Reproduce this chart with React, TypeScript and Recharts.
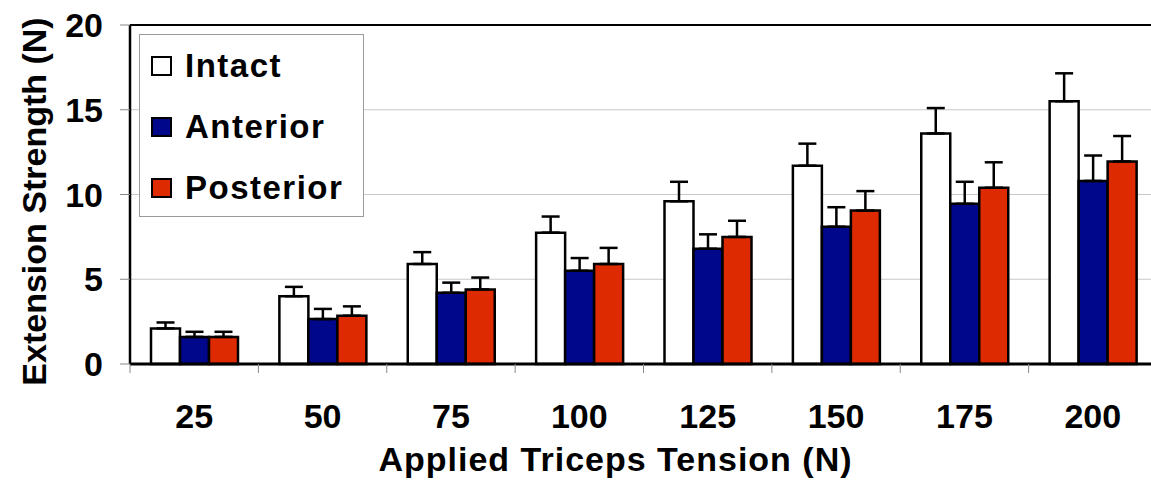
import {
  BarChart,
  Bar,
  XAxis,
  YAxis,
  CartesianGrid,
  ReferenceLine,
  ErrorBar,
  Legend,
  Label,
} from "recharts";

const tensions = ["25", "50", "75", "100", "125", "150", "175", "200"];
const intact = [2.1, 4.0, 5.9, 7.75, 9.6, 11.7, 13.6, 15.5];
const intactErr = [0.35, 0.55, 0.7, 0.95, 1.15, 1.3, 1.5, 1.65];
const anterior = [1.6, 2.65, 4.2, 5.5, 6.8, 8.1, 9.45, 10.8];
const anteriorErr = [0.3, 0.6, 0.6, 0.75, 0.85, 1.15, 1.3, 1.5];
const posterior = [1.6, 2.85, 4.4, 5.9, 7.5, 9.05, 10.4, 11.95];
const posteriorErr = [0.3, 0.55, 0.7, 0.95, 0.95, 1.15, 1.5, 1.5];
const yTicks = [0, 5, 10, 15, 20];
const seriesNames = ["Intact", "Anterior", "Posterior"];

const FONT = '"Liberation Sans", Arial, Helvetica, sans-serif';
const colors: Record<string, string> = {
  Intact: "#ffffff",
  Anterior: "#00078a",
  Posterior: "#dd2a00",
};

const data = tensions.map((t, i) => ({
  name: t,
  intact: intact[i],
  intactErr: [0, intactErr[i]],
  anterior: anterior[i],
  anteriorErr: [0, anteriorErr[i]],
  posterior: posterior[i],
  posteriorErr: [0, posteriorErr[i]],
}));

function XTick(props: any) {
  const { x, y, payload } = props;
  const half = payload?.offset ?? 0;
  return (
    <g>
      <line x1={x - half} x2={x - half} y1={y} y2={y + 9} stroke="#888" strokeWidth={1} />
      <text
        x={x}
        y={y + 64}
        textAnchor="middle"
        fontFamily={FONT}
        fontWeight="bold"
        fontSize={34}
        fill="#000"
      >
        {payload.value}
      </text>
    </g>
  );
}

function LegendBox(props: any) {
  const items = [...(props.payload || [])].sort(
    (a: any, b: any) => seriesNames.indexOf(a.value) - seriesNames.indexOf(b.value)
  );
  return (
    <div
      style={{
        width: 225,
        height: 183,
        boxSizing: "border-box",
        border: "1.5px solid #9a9a9a",
        background: "#fff",
        fontFamily: FONT,
      }}
    >
      {items.map((it: any) => (
        <div
          key={it.value}
          style={{ height: 61, display: "flex", alignItems: "center", paddingLeft: 11 }}
        >
          <span
            style={{
              display: "inline-block",
              width: 21,
              height: 20,
              boxSizing: "border-box",
              border: "2px solid #000",
              background: colors[it.value] ?? it.color,
              marginRight: 13,
            }}
          />
          <span
            style={{ fontSize: 33, fontWeight: "bold", letterSpacing: 1.5, color: "#000" }}
          >
            {it.value}
          </span>
        </div>
      ))}
    </div>
  );
}

export default function App() {
  return (
    <div
      style={{
        position: "absolute",
        left: 0,
        top: 0,
        width: 1151,
        height: 483,
        overflow: "hidden",
        background: "#fff",
      }}
    >
      <BarChart
        width={1160}
        height={483}
        data={data}
        margin={{ top: 25, right: 3, left: 0, bottom: 0 }}
        barCategoryGap={21}
        barGap={0}
      >
        <CartesianGrid horizontal vertical={false} stroke="#c8c8c8" strokeWidth={1.2} />
        <ReferenceLine y={20} stroke="#000" strokeWidth={2} />
        <XAxis
          dataKey="name"
          height={119}
          tickLine={false}
          tickSize={0}
          tickMargin={0}
          axisLine={{ stroke: "#000", strokeWidth: 3 }}
          tick={<XTick />}
          interval={0}
        >
          <Label
            content={(p: any) => {
              const vb = p.viewBox || { x: 130, y: 364, width: 1027 };
              return (
                <text
                  x={vb.x + vb.width / 2 - 28}
                  y={vb.y + 107}
                  textAnchor="middle"
                  fontFamily={FONT}
                  fontWeight="bold"
                  fontSize={34}
                  letterSpacing={1}
                  fill="#000"
                >
                  Applied Triceps Tension (N)
                </text>
              );
            }}
          />
        </XAxis>
        <YAxis
          width={130}
          domain={[0, 20]}
          ticks={yTicks}
          interval={0}
          tickSize={10}
          tickMargin={17}
          tickLine={{ stroke: "#888", strokeWidth: 1 }}
          axisLine={{ stroke: "#000", strokeWidth: 2.5 }}
          tick={{ fontFamily: FONT, fontWeight: "bold", fontSize: 34, fill: "#000" }}
        >
          <Label
            content={(p: any) => {
              const vb = p.viewBox || { x: 0, y: 25, height: 339 };
              const cx = 46;
              const cy = vb.y + vb.height / 2 + 7;
              return (
                <text
                  x={cx}
                  y={cy}
                  transform={`rotate(-90 ${cx} ${cy})`}
                  textAnchor="middle"
                  fontFamily={FONT}
                  fontWeight="bold"
                  fontSize={34}
                  fill="#000"
                >
                  Extension Strength (N)
                </text>
              );
            }}
          />
        </YAxis>
        <Legend
          layout="horizontal"
          verticalAlign="middle"
          align="center"
          itemSorter={(item: any) => seriesNames.indexOf(item.value)}
          content={<LegendBox />}
          wrapperStyle={{ position: "absolute", left: 139, top: 34, width: 225, height: 183 }}
        />
        <Bar dataKey="intact" name="Intact" fill={colors.Intact} stroke="#000" strokeWidth={2.5} isAnimationActive={false}>
          <ErrorBar dataKey="intactErr" width={9} stroke="#000" strokeWidth={2.5} direction="y" />
        </Bar>
        <Bar dataKey="anterior" name="Anterior" fill={colors.Anterior} stroke="#000" strokeWidth={2.5} isAnimationActive={false}>
          <ErrorBar dataKey="anteriorErr" width={9} stroke="#000" strokeWidth={2.5} direction="y" />
        </Bar>
        <Bar dataKey="posterior" name="Posterior" fill={colors.Posterior} stroke="#000" strokeWidth={2.5} isAnimationActive={false}>
          <ErrorBar dataKey="posteriorErr" width={9} stroke="#000" strokeWidth={2.5} direction="y" />
        </Bar>
      </BarChart>
    </div>
  );
}
